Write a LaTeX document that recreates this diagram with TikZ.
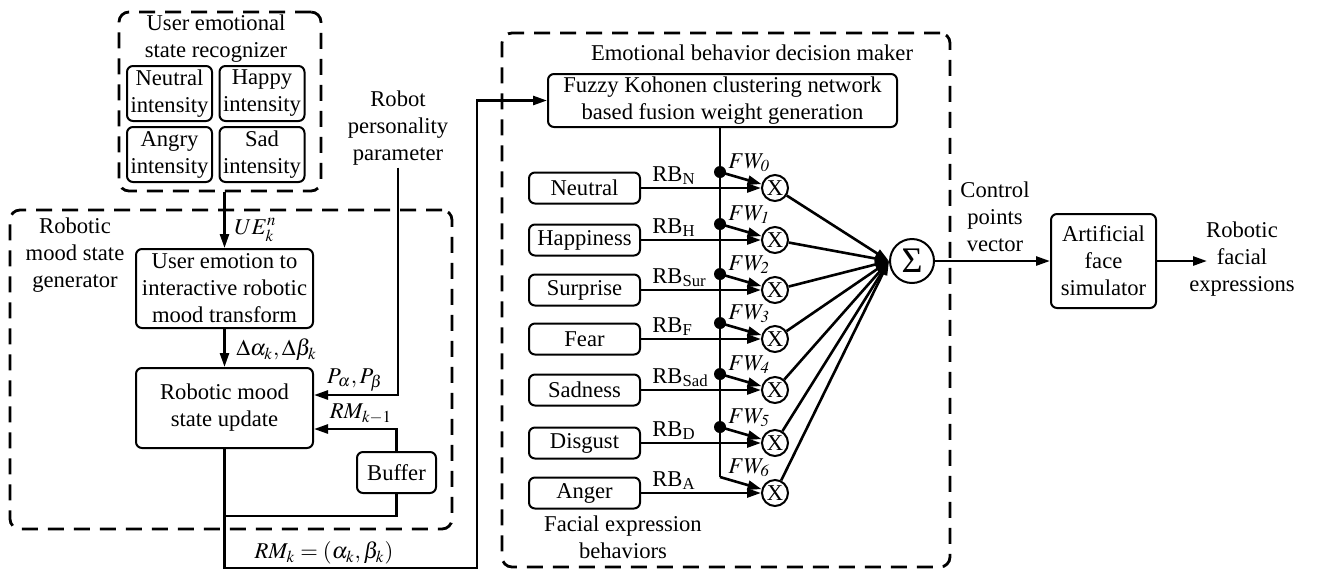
\documentclass[tikz,border=0pt]{standalone}
\usepackage{mathptmx}
\usepackage{fontspec}
\setmainfont{Liberation Serif}
\usetikzlibrary{arrows.meta}

\begin{document}
\begin{tikzpicture}[x=0.5pt,y=-0.5pt,
  font=\rmfamily\fontsize{11.3}{13.5}\selectfont,
  every node/.style={inner sep=1pt},
  box/.style={draw,line width=1pt,rounded corners=3pt,align=center},
  dashbox/.style={draw,line width=1.4pt,dash pattern=on 8pt off 5pt,rounded corners=5pt},
  intbox/.style={box,minimum width=42.5pt,minimum height=27.5pt},
  beh/.style={box,minimum width=55.5pt,minimum height=15.5pt},
  mult/.style={draw,circle,line width=1pt,minimum size=13pt,inner sep=0pt},
  wire/.style={line width=1.3pt},
  arr/.style={wire,-{Triangle[length=7pt,width=4.5pt]}}]

\useasboundingbox (0,0) rectangle (1317,570);

% user emotional state recognizer
\node[dashbox,minimum width=101pt,minimum height=89.5pt] (ues) at (220,101.5) {};
\node[align=center] (uestitle) at (216,39) {User emotional\\state recognizer};
\node[intbox] (neu) at (169.5,93.5) {Neutral\\intensity};
\node[intbox] (hap) at (262,93.5) {Happy\\intensity};
\node[intbox] (ang) at (169.5,154.5) {Angry\\intensity};
\node[intbox] (sad) at (262,154.5) {Sad\\intensity};

% robotic mood state generator
\node[dashbox,minimum width=221pt,minimum height=159.5pt] (mgen) at (231,369.5) {};
\node[align=center] (mgentitle) at (75,255) {Robotic\\mood state\\generator};
\node[box,minimum width=88.5pt,minimum height=39.5pt] (trf) at (224.5,288.5) {User emotion to\\interactive robotic\\mood transform};
\node[box,minimum width=88.5pt,minimum height=40pt] (upd) at (224.5,408) {Robotic mood\\state update};
\node[box,minimum width=39.5pt,minimum height=20.5pt] (buf) at (396.5,472.5) {Buffer};
\node[align=center] (pers) at (398,128) {Robot\\personality\\parameter};

\node[anchor=west] (ue) at (232,230) {$UE_k^n$};
\node[anchor=west] (dab) at (234,350) {$\Delta\alpha_k, \Delta\beta_k$};
\node (pab) at (355,380) {$P_\alpha, P_\beta$};
\node (rmk1) at (361,414) {$RM_{k-1}$};
\node (rmk) at (324,553) {$RM_k=(\alpha_k, \beta_k)$};

\draw[arr] (trf.north |- ues.south) -- (trf.north);
\draw[arr] (trf) -- (upd);
\draw[arr] (pers.south) |- (upd.east |- 0,395);
\draw[arr] (buf.north) |- (upd.east |- 0,429);
\coordinate (split) at (upd.south |- 0,516);
\coordinate (turn) at (477,568);
\draw[wire] (split) -| (buf.south);

% emotional behavior decision maker
\node[dashbox,minimum width=224pt,minimum height=267pt] (dm) at (726,300) {};
\node (dmtitle) at (752,53) {Emotional behavior decision maker};
\node[box,minimum width=174.5pt,minimum height=26.5pt] (fuz) at (722.5,100.5) {Fuzzy Kohonen clustering network\\based fusion weight generation};
\node[align=center] (febtitle) at (623,537) {Facial expression\\behaviors};
\node[draw,circle,line width=1pt,minimum size=22pt,inner sep=0pt,font=\fontsize{18}{18}\selectfont] (sum) at (912,261) {Σ};

\draw[arr] (upd.south) |- (turn) |- (fuz.west);

\foreach \i/\txt/\yy/\rb in {0/Neutral/188/N,1/Happiness/240/H,2/Surprise/290/Sur,3/Fear/339/F,4/Sadness/390/Sad,5/Disgust/443/D,6/Anger/493/A}{
  \node[beh] (b\i) at (584.5,\yy) {\txt};
  \node[mult] (x\i) at (775,\yy) {X};
  \coordinate (d\i) at (720,\yy-16);
  \node[anchor=base west] (rb\i) at (650,\yy-7) {RB\textsubscript{\rb}};
  \node[anchor=base west] (fw\i) at (726,\yy-20) {$FW_{\mathit{\i}}$};
  \draw[arr] (b\i) -- (x\i);
  \draw[arr] (d\i) -- (x\i);
  \draw[arr] (x\i) -- (sum.west);
}
\draw[wire] (d0 |- fuz.south) -- (d6);
\foreach \i in {0,...,5} \fill (d\i) circle (3pt);

% output
\node[box,minimum width=52.5pt,minimum height=47pt] (face) at (1103.5,261) {Artificial\\face\\simulator};
\node[align=center] (cpv) at (995,217) {Control\\points\\vector};
\node[align=center] (rfe) at (1242,259) {Robotic\\facial\\expressions};
\coordinate (rfein) at (1207,261);
\draw[arr] (sum) -- (face);
\draw[arr] (face) -- (rfein);

\end{tikzpicture}
\end{document}
